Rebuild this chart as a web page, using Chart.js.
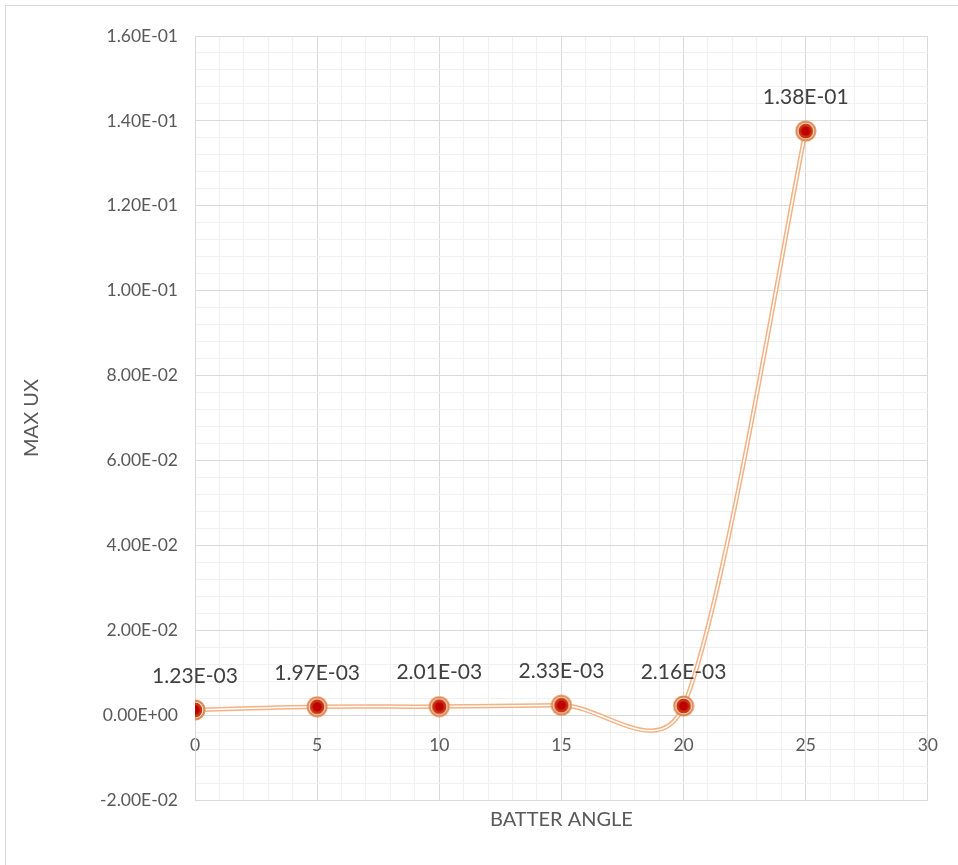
<!DOCTYPE html>
<html>
<head>
<meta charset="utf-8">
<script src="https://cdn.jsdelivr.net/npm/chart.js@4.4.1/dist/chart.umd.min.js"></script>
<style>
  html, body { margin: 0; padding: 0; background: #fff; overflow: hidden; }
  #wrap { position: relative; width: 958px; height: 865px; }
  #frame { position: absolute; left: 5px; top: 5px; width: 970px; height: 880px; border: 1px solid #d9d9d9; box-sizing: border-box; }
  canvas { position: absolute; left: 0; top: 0; }
</style>
</head>
<body>
<div id="wrap">
  <div id="frame"></div>
  <canvas id="c" width="958" height="865"></canvas>
</div>
<script>
const batterAngle = [0, 5, 10, 15, 20, 25];
const maxUx = [0.00123, 0.00197, 0.00201, 0.00233, 0.00216, 0.1376];
const yTickMajors = [-0.02, 0, 0.02, 0.04, 0.06, 0.08, 0.10, 0.12, 0.14, 0.16];
const xTickMajors = [0, 5, 10, 15, 20, 25, 30];
const xTitle = 'BATTER ANGLE';
const yTitle = 'MAX UX';

function sci(v) {
  if (Math.abs(v) < 1e-12) return '0.00E+00';
  const s = v.toExponential(2).toUpperCase();
  const m = s.match(/^(-?[\d.]+)E([+-])(\d+)$/);
  return m[1] + 'E' + m[2] + (m[3].length < 2 ? '0' + m[3] : m[3]);
}
function isMajor(v, list) { return list.some(t => Math.abs(t - v) < 1e-9); }

// marker image
const mk = document.createElement('canvas');
mk.width = 22; mk.height = 22;
(function(){
  const g = mk.getContext('2d');
  const c = 11;
  const circ = (r, col) => { g.beginPath(); g.arc(c, c, r, 0, Math.PI*2); g.fillStyle = col; g.fill(); };
  circ(10.5, '#de8a53');
  circ(8.3, '#ffffff');
  circ(7.4, '#c8360f');
  circ(4.6, '#c00000');
})();

const pts = batterAngle.map((x, i) => ({x: x, y: maxUx[i]}));

// Excel-like smoothing: tangent (next - prev)/6, each arm capped to half the adjacent segment
const smoothPlugin = {
  id: 'excelSmooth',
  beforeDatasetDraw(chart, args) {
    const meta = args.meta;
    const p = meta.data;
    const n = p.length;
    for (let i = 0; i < n; i++) {
      const prev = p[Math.max(0, i - 1)], next = p[Math.min(n - 1, i + 1)], cur = p[i];
      let tx = (next.x - prev.x) / 6, ty = (next.y - prev.y) / 6;
      const tl = Math.hypot(tx, ty) || 1;
      const dPrev = Math.hypot(cur.x - prev.x, cur.y - prev.y);
      const dNext = Math.hypot(next.x - cur.x, next.y - cur.y);
      const sb = Math.min(1, (dPrev / 2) / tl);
      const sf = Math.min(1, (dNext / 2) / tl);
      cur.cp1x = cur.x - tx * sb; cur.cp1y = cur.y - ty * sb;
      cur.cp2x = cur.x + tx * sf; cur.cp2y = cur.y + ty * sf;
    }
    if (meta.dataset) meta.dataset._pointsUpdated = true;
  }
};

const labelPlugin = {
  id: 'dataLabels',
  afterDatasetsDraw(chart) {
    const ctx = chart.ctx;
    const meta = chart.getDatasetMeta(1);
    ctx.save();
    ctx.font = '21px Lato';
    ctx.fillStyle = '#404040';
    ctx.textAlign = 'center';
    ctx.textBaseline = 'middle';
    meta.data.forEach((el, i) => {
      ctx.fillText(sci(maxUx[i]), el.x, el.y - 34);
    });
    ctx.restore();
  }
};

new Chart(document.getElementById('c'), {
  type: 'scatter',
  data: {
    datasets: [
      {
        data: pts, showLine: true, tension: 0.4, order: 1,
        borderColor: '#f4b183', borderWidth: 4.5, pointRadius: 0, pointHoverRadius: 0
      },
      {
        data: pts, showLine: true, tension: 0.4, order: 0,
        borderColor: '#ffffff', borderWidth: 1.5,
        pointStyle: mk, pointRadius: 11, pointHoverRadius: 11
      }
    ]
  },
  options: {
    responsive: false,
    animation: false,
    events: [],
    layout: { padding: { left: 16, top: 36, right: 30, bottom: 0 } },
    plugins: { legend: { display: false }, tooltip: { enabled: false } },
    scales: {
      x: {
        type: 'linear', position: { y: 0 }, min: 0, max: 30,
        afterBuildTicks(s) { s.ticks = []; for (let i = 0; i <= 30; i++) s.ticks.push({value: i}); },
        ticks: {
          autoSkip: false, maxRotation: 0, padding: 20,
          color: '#595959', font: { family: 'Lato', size: 17.5 },
          callback: v => isMajor(v, xTickMajors) ? String(v) : ''
        },
        grid: {
          drawTicks: false,
          color: ctx => (ctx.tick && isMajor(ctx.tick.value, xTickMajors)) ? '#d9d9d9' : '#f0f0f0',
          lineWidth: 1
        },
        border: { display: false }
      },
      x2: {
        type: 'linear', position: 'bottom', min: 0, max: 30,
        ticks: { display: false },
        grid: { display: false, drawTicks: false },
        border: { display: false },
        title: { display: true, text: xTitle, color: '#595959', font: { family: 'Lato', size: 20 }, padding: { top: 0, bottom: 33 } },
        afterFit(s) { s.height = 65; }
      },
      y: {
        type: 'linear', position: 'left', min: -0.02, max: 0.16,
        afterBuildTicks(s) { s.ticks = []; for (let i = 0; i <= 45; i++) s.ticks.push({value: -0.02 + i * 0.004}); },
        afterFit(s) { s.width = 179; },
        ticks: {
          autoSkip: false, padding: 17,
          color: '#595959', font: { family: 'Lato', size: 17.5 },
          callback: v => isMajor(v, yTickMajors) ? sci(v) : ''
        },
        grid: {
          drawTicks: false,
          color: ctx => (ctx.tick && isMajor(ctx.tick.value, yTickMajors)) ? '#d9d9d9' : '#f0f0f0',
          lineWidth: 1
        },
        border: { display: true, color: '#d9d9d9' },
        title: { display: true, text: yTitle, color: '#595959', font: { family: 'Lato', size: 20 } }
      }
    }
  },
  plugins: [smoothPlugin, labelPlugin]
});
</script>
</body>
</html>
